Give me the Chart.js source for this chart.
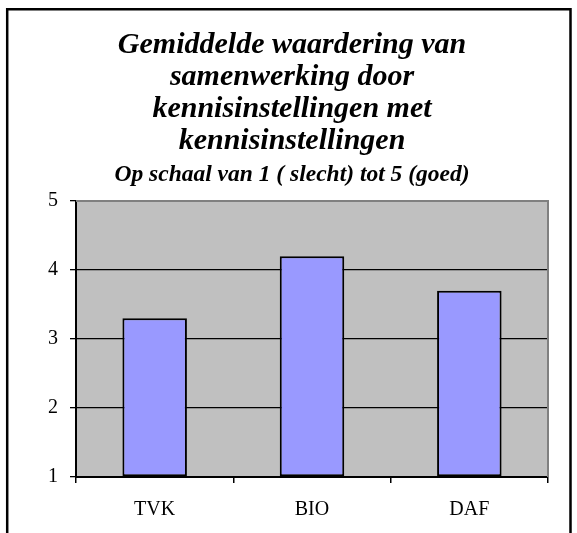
<!DOCTYPE html>
<html>
<head>
<meta charset="utf-8">
<script src="https://cdn.jsdelivr.net/npm/chart.js@4/dist/chart.umd.min.js"></script>
<style>
  html, body { margin: 0; padding: 0; background: #ffffff; }
  #wrap { position: relative; width: 577px; height: 533px; }
  canvas { display: block; }
</style>
</head>
<body>
<div id="wrap"><canvas id="c" width="577" height="533"></canvas></div>
<script>
const categories = ["TVK", "BIO", "DAF"];
const scores = [3.3, 4.2, 3.7];
const yTicks = [1, 2, 3, 4, 5];
const titleLines = ["Gemiddelde waardering van", "samenwerking door", "kennisinstellingen met", "kennisinstellingen"];
const subtitleText = "Op schaal van 1 ( slecht) tot 5 (goed)";

const frameAndPlot = {
  id: 'frameAndPlot',
  beforeDraw(chart) {
    const { ctx, chartArea: a } = chart;
    ctx.save();
    ctx.fillStyle = '#ffffff';
    ctx.fillRect(0, 0, chart.width, chart.height);
    ctx.fillStyle = '#c0c0c0';
    ctx.fillRect(a.left, a.top, a.right - a.left, a.bottom - a.top);
    ctx.restore();
  },
  beforeDatasetsDraw(chart) {
    const { ctx, chartArea: a } = chart;
    ctx.save();
    ctx.strokeStyle = '#808080';
    ctx.lineWidth = 2;
    ctx.beginPath();
    ctx.moveTo(a.left, a.top);
    ctx.lineTo(a.right, a.top);
    ctx.lineTo(a.right, a.bottom);
    ctx.stroke();
    ctx.restore();
  },
  afterDraw(chart) {
    const { ctx } = chart;
    ctx.save();
    ctx.strokeStyle = '#000000';
    ctx.lineWidth = 2.5;
    ctx.beginPath();
    ctx.moveTo(7.2, chart.height + 5);
    ctx.lineTo(7.2, 9.2);
    ctx.lineTo(570.5, 9.2);
    ctx.lineTo(570.5, chart.height + 5);
    ctx.stroke();
    ctx.restore();
  }
};

new Chart(document.getElementById('c'), {
  type: 'bar',
  data: {
    labels: categories,
    datasets: [{
      data: scores,
      base: 1,
      backgroundColor: '#9999ff',
      borderColor: '#000000',
      borderWidth: 2,
      borderSkipped: false,
      barPercentage: 0.41,
      categoryPercentage: 1
    }]
  },
  options: {
    responsive: false,
    animation: false,
    devicePixelRatio: 1,
    layout: { padding: { left: 36, right: 29, top: 0, bottom: -4 } },
    plugins: {
      legend: { display: false },
      tooltip: { enabled: false },
      title: {
        display: true,
        text: titleLines,
        color: '#000000',
        font: { family: 'Liberation Serif', size: 30, weight: 'bold', style: 'italic', lineHeight: 32 / 30 },
        padding: { top: 29, bottom: 6 }
      },
      subtitle: {
        display: true,
        text: subtitleText,
        color: '#000000',
        font: { family: 'Liberation Serif', size: 23.5, weight: 'bold', style: 'italic', lineHeight: 1.0 },
        padding: { top: 0, bottom: 14.5 }
      }
    },
    scales: {
      x: {
        offset: true,
        grid: {
          offset: true,
          drawOnChartArea: false,
          drawTicks: true,
          tickLength: 6,
          tickColor: '#000000',
          color: '#000000',
          lineWidth: 1.5
        },
        border: { display: true, color: '#000000', width: 2 },
        ticks: {
          color: '#000000',
          padding: 17,
          font: { family: 'Liberation Serif', size: 20, lineHeight: 1.0 }
        }
      },
      y: {
        min: 1,
        max: 5,
        afterBuildTicks(scale) { scale.ticks = yTicks.map(v => ({ value: v })); },
        grid: {
          color: (c) => (c.tick && c.tick.value === 5) ? 'rgba(0,0,0,0)' : '#000000',
          tickColor: '#000000',
          lineWidth: 1.3,
          tickLength: 6,
          drawTicks: true
        },
        border: { display: true, color: '#000000', width: 2 },
        ticks: {
          color: '#000000',
          padding: 12,
          font: { family: 'Liberation Serif', size: 20 }
        }
      }
    }
  },
  plugins: [frameAndPlot]
});
</script>
</body>
</html>
